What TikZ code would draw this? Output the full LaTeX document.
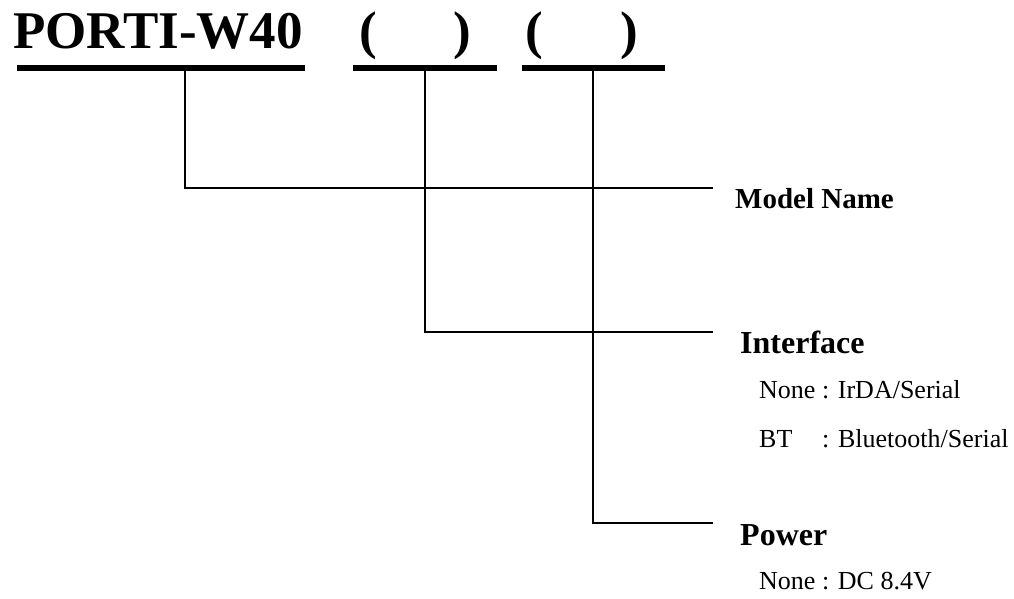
\documentclass[tikz,border=0pt]{standalone}
\usepackage{fontspec}
\setmainfont{Liberation Serif}

\begin{document}
\begin{tikzpicture}[x=1pt, y=-1pt]
    % Define colours
    \definecolor{lineColour}{HTML}{000000}

    % Define styles
    \tikzset{
        titleText/.style={anchor=base west, inner sep=0pt, font=\fontsize{53}{60}\selectfont\bfseries},
        headText/.style={anchor=base west, inner sep=0pt, font=\fontsize{32}{38}\selectfont\bfseries},
        optionText/.style={anchor=base west, inner sep=0pt, font=\fontsize{26}{31}\selectfont},
        underLine/.style={draw=lineColour, line width=5.5pt},
        leaderLine/.style={draw=lineColour, line width=1.6pt}
    }

    % Fix the page size
    \useasboundingbox (0,0) rectangle (1014,598);

    % Draw the model code
    \node[titleText] (model) at (13,48) {PORTI-W40};
    \node[titleText] (openA) at (359,48) {(};
    \node[titleText] (closeA) at (453,48) {)};
    \node[titleText] (openB) at (525,48) {(};
    \node[titleText] (closeB) at (620,48) {)};

    % Define coordinates for the underlines
    \coordinate (modelLeft) at (17,68);
    \coordinate (modelRight) at (305,68);
    \coordinate (ifLeft) at (353,68);
    \coordinate (ifRight) at (497,68);
    \coordinate (pwLeft) at (522,68);
    \coordinate (pwRight) at (665,68);

    % Draw the underlines
    \draw[underLine] (modelLeft) -- (modelRight);
    \draw[underLine] (ifLeft) -- (ifRight);
    \draw[underLine] (pwLeft) -- (pwRight);

    % Label the fields
    \node[headText, font=\fontsize{29}{35}\selectfont\bfseries] (modelName) at (735,208) {Model Name};
    \node[headText] (interface) at (740,353) {Interface};
    \node[optionText] (ifNone) at (759,398) {None : IrDA/Serial};
    \node[optionText] (ifBT) at (759,447) {BT};
    \node[optionText] (ifBTText) at (822,447) {: Bluetooth/Serial};
    \node[headText] (power) at (740,545) {Power};
    \node[optionText] (pwNone) at (759,589) {None : DC 8.4V};

    % Define coordinates for the leader lines
    \coordinate (modelTap) at (185,68);
    \coordinate (modelEnd) at (713,188);
    \coordinate (ifTap) at (425,68);
    \coordinate (ifEnd) at (713,332);
    \coordinate (pwTap) at (593,68);
    \coordinate (pwEnd) at (713,523);

    % Draw the leader lines
    \draw[leaderLine] (modelTap) |- (modelEnd);
    \draw[leaderLine] (ifTap) |- (ifEnd);
    \draw[leaderLine] (pwTap) |- (pwEnd);

\end{tikzpicture}
\end{document}
